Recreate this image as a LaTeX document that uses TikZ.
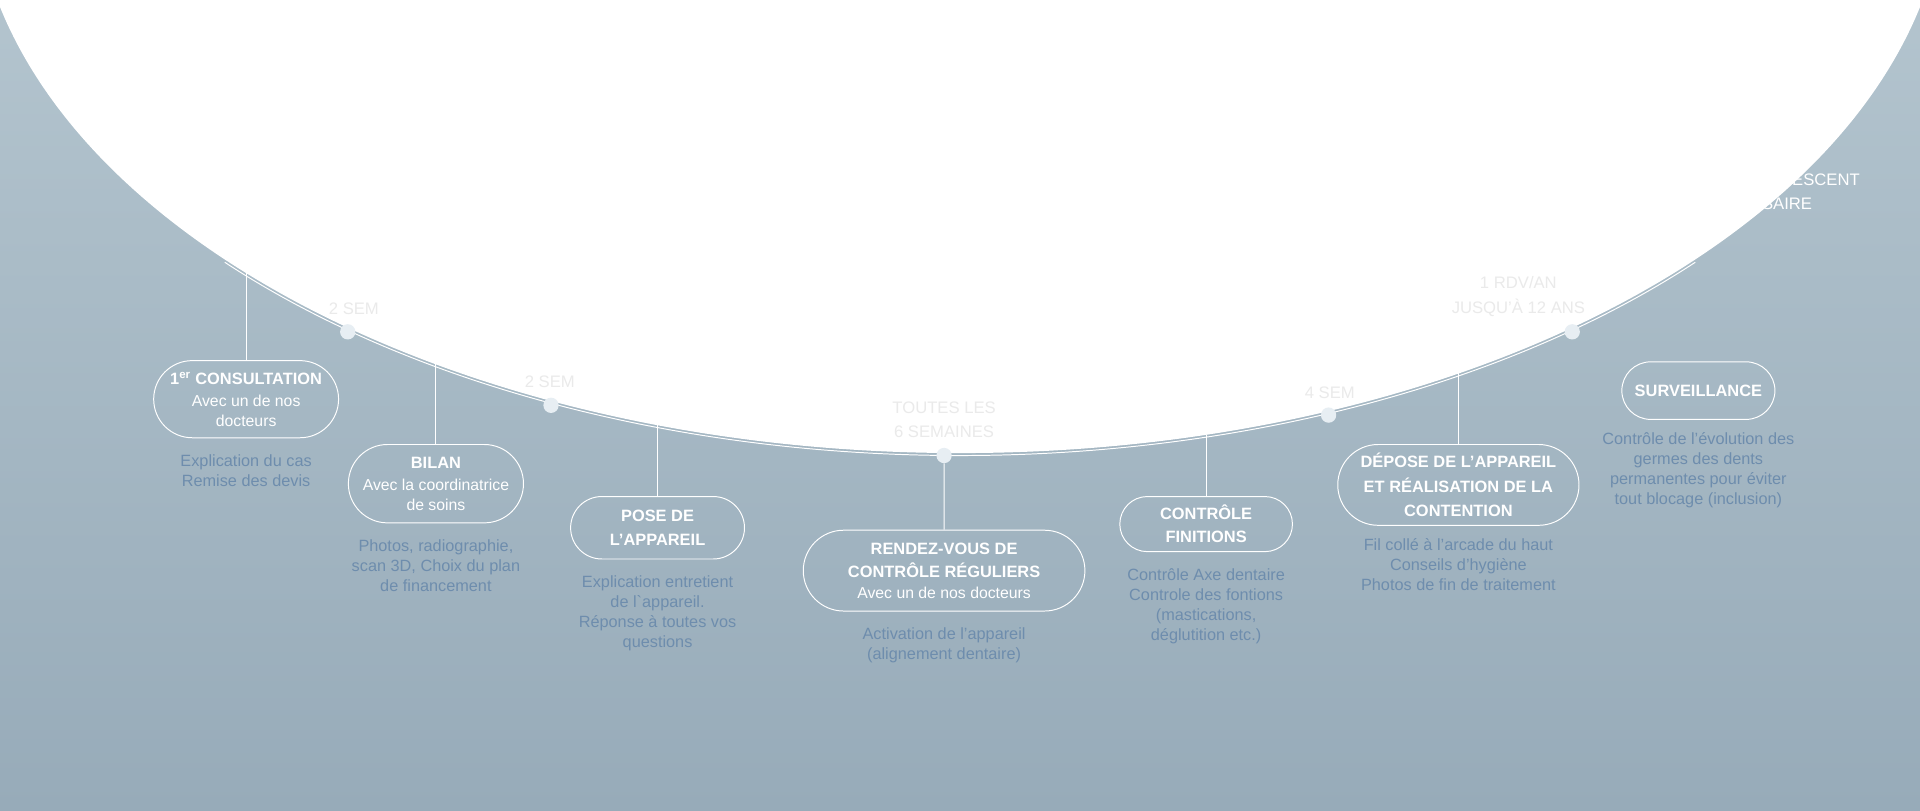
\documentclass[tikz,border=0pt]{standalone}
\usepackage{fontspec}
\setmainfont{Liberation Sans}
\usetikzlibrary{positioning,shapes.misc}
\definecolor{bgtop}{HTML}{B3C4CE}
\definecolor{bgbot}{HTML}{97ABB9}
\definecolor{desctext}{HTML}{6E8DAD}
\definecolor{waittext}{HTML}{EAEAEA}
\definecolor{dotfill}{HTML}{E7EEF3}
\newcommand\boxsub[1]{{\fontsize{12.9}{16}\selectfont\mdseries #1}}

\begin{document}
\begin{tikzpicture}[x=1pt,y=-1pt,node distance=13pt,
  box/.style={rounded rectangle,draw=white,line width=0.8pt,text=white,align=center,inner sep=0pt,font=\fontsize{13.4}{19}\selectfont\bfseries},
  desc/.style={text=desctext,align=center,inner sep=0pt,font=\fontsize{13.3}{16.3}\selectfont},
  wait/.style={text=waittext,align=center,inner sep=0pt,font=\fontsize{13.6}{20}\selectfont},
  tdot/.style={circle,fill=dotfill,inner sep=0pt,minimum size=12.5pt},
  link/.style={draw=white,line width=0.8pt},
  tline/.style={draw=white,line width=0.8pt}]
\clip (0,0) rectangle (1568,662);
\shade[top color=bgtop,bottom color=bgbot] (0,0) rectangle (1568,662);
\fill[white] (784,-105) ellipse [x radius=806pt, y radius=475pt];
\draw[tline] (784,-105) ++(-138:808pt and 477pt) arc[start angle=-138, end angle=-42, x radius=808pt, y radius=477pt];

% points on the curve
\coordinate (t1) at (201,222);
\coordinate (t2) at (356,297);
\coordinate (t3) at (537,347);
\coordinate (t5) at (985,355);
\coordinate (t6) at (1191,305);
\node[tdot] (d1) at (284,271) {};
\node[tdot] (d2) at (450,331) {};
\node[tdot] (d3) at (771,372) {};
\node[tdot] (d4) at (1085,339) {};
\node[tdot] (d5) at (1284,271) {};

% delays
\node[wait] (w1) at (289,252) {2 SEM};
\node[wait] (w2) at (449,312) {2 SEM};
\node[wait] (w3) at (771,343) {TOUTES LES\\6 SEMAINES};
\node[wait] (w4) at (1086,321) {4 SEM};
\node[wait] (w5) at (1240,242) {1 RDV/AN\\JUSQU’À 12 ANS};
\node[wait,text=white,anchor=east] (w6) at (1519,147) {ESCENT};
\node[wait,text=white,anchor=east] (w7) at (1480,166) {SAIRE};

% steps
\node[box,minimum width=151pt,minimum height=63pt] (consult) at (201,326) {1\textsuperscript{er} CONSULTATION\\[-1pt]\boxsub{Avec un de nos}\\[-3pt]\boxsub{docteurs}};
\node[box,minimum width=143pt,minimum height=64pt] (bilan) at (356,395) {BILAN\\[-1pt]\boxsub{Avec la coordinatrice}\\[-3pt]\boxsub{de soins}};
\node[box,minimum width=142pt,minimum height=51pt] (pose) at (537,431) {POSE DE\\L’APPAREIL};
\node[box,minimum width=230pt,minimum height=66pt] (rdv) at (771,466) {RENDEZ-VOUS DE\\CONTRÔLE RÉGULIERS\\[-2pt]\boxsub{Avec un de nos docteurs}};
\node[box,minimum width=141pt,minimum height=45pt] (controle) at (985,428) {CONTRÔLE\\FINITIONS};
\node[box,minimum width=197pt,minimum height=66pt] (depose) at (1191,396) {DÉPOSE DE L’APPAREIL\\[1pt]ET RÉALISATION DE LA\\[1pt]CONTENTION};
\node[box,minimum width=125pt,minimum height=47pt] (surveil) at (1387,319) {SURVEILLANCE};

\node[desc,below=of consult] (consultd) {Explication du cas\\Remise des devis};
\node[desc,below=of bilan] (bitand) {Photos, radiographie,\\scan 3D, Choix du plan\\de financement};
\node[desc,below=of pose] (posed) {Explication entretient\\de l\textasciigrave appareil.\\Réponse à toutes vos\\questions};
\node[desc,below=of rdv] (rdvd) {Activation de l’appareil\\(alignement dentaire)};
\node[desc,below=of controle] (controled) {Contrôle Axe dentaire\\Controle des fontions\\(mastications,\\déglutition etc.)};
\node[desc,below=10pt of depose] (deposed) {Fil collé à l’arcade du haut\\Conseils d’hygiène\\Photos de fin de traitement};
\node[desc,below=10pt of surveil] (surveild) {Contrôle de l’évolution des\\germes des dents\\permanentes pour éviter\\tout blocage (inclusion)};

\path[link]
  (consult) edge (t1)
  (bilan) edge (t2)
  (pose) edge (t3)
  (rdv) edge (d3)
  (controle) edge (t5)
  (depose) edge (t6)
  ;
\end{tikzpicture}
\end{document}
